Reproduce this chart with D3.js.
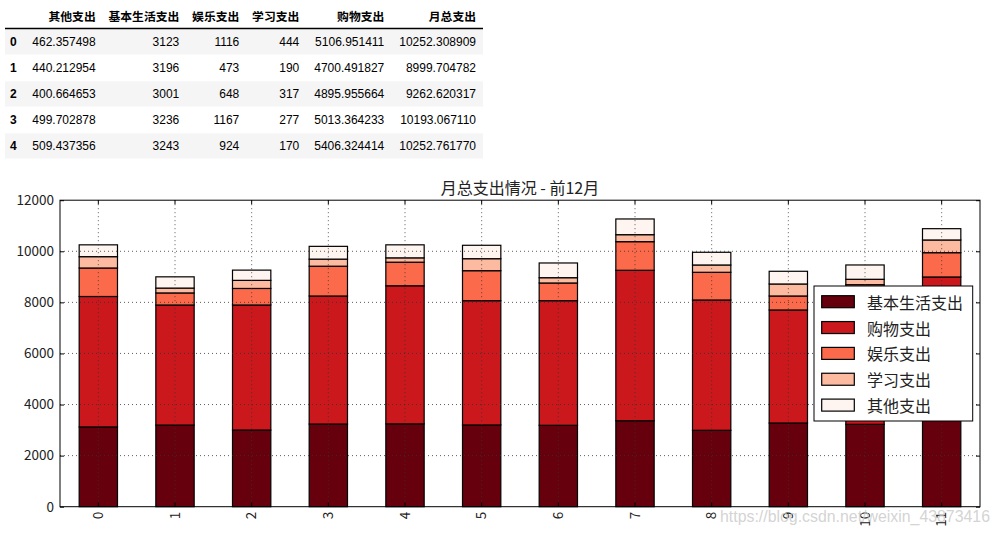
<!DOCTYPE html>
<html>
<head>
<meta charset="utf-8">
<script src="https://cdn.jsdelivr.net/npm/d3@7/dist/d3.min.js"></script>
<style>
  html, body { margin: 0; padding: 0; background: #fff; }
  svg { display: block; }
</style>
</head>
<body>
<svg id="chart" width="1000" height="535"></svg>
<script>
// ---------------- data ----------------
const months = ["0","1","2","3","4","5","6","7","8","9","10","11"];
const basic         = [3123, 3196, 3001, 3236, 3243, 3200, 3187, 3367, 2991, 3277, 3226, 3400];
const shopping      = [5106.951411, 4700.491827, 4895.955664, 5013.364233, 5406.324414, 4866, 4879, 5889, 5102, 4425, 4766, 5594];
const entertainment = [1116, 473, 648, 1167, 924, 1174, 693, 1120, 1085, 548, 700, 951];
const study         = [444, 190, 317, 277, 170, 470, 207, 274, 286, 470, 212, 498];
const other         = [462.357498, 440.212954, 400.664653, 499.702878, 509.437356, 525, 576, 615, 497, 497, 560, 442];
const tableTotals   = [10252.308909, 8999.704782, 9262.620317, 10193.067110, 10252.761770];

const seriesNames  = ["基本生活支出", "购物支出", "娱乐支出", "学习支出", "其他支出"];
const seriesValues = [basic, shopping, entertainment, study, other];
const seriesColors = ["#67000d", "#cb181d", "#fb6a4a", "#fcbba1", "#fff5f0"];

const tableHeaders = ["其他支出", "基本生活支出", "娱乐支出", "学习支出", "购物支出", "月总支出"];
const yTicks = [0, 2000, 4000, 6000, 8000, 10000, 12000];
const chartTitle = "月总支出情况 - 前12月";
const watermark = "https://blog.csdn.net/weixin_43873416";

// ---------------- setup ----------------
const svg = d3.select("#chart");
const CJK = "'Noto Sans CJK SC', 'Noto Sans', sans-serif";
const TABLEFONT = "'Liberation Sans', Arial, 'Noto Sans CJK SC', sans-serif";

// ---------------- table ----------------
const tbl = svg.append("g");
const tableLeft = 5, tableRight = 483;
const rowH = 26, headerLineY = 28.5;
const colRight = [95.7, 179.3, 239.3, 299.3, 384.3, 476];
const nRows = tableTotals.length;
const fmt6 = v => v.toFixed(6);
const cellText = [
  i => fmt6(other[i]),
  i => String(basic[i]),
  i => String(entertainment[i]),
  i => String(study[i]),
  i => fmt6(shopping[i]),
  i => fmt6(tableTotals[i])
];
const rowsIdx = d3.range(nRows);

tbl.selectAll("rect.stripe").data(rowsIdx.filter(i => i % 2 === 0)).join("rect")
  .attr("class", "stripe")
  .attr("x", tableLeft).attr("width", tableRight - tableLeft)
  .attr("y", i => headerLineY + 0.8 + i * rowH).attr("height", rowH - 0.8)
  .attr("fill", "#f5f5f5");

tbl.append("line")
  .attr("x1", tableLeft).attr("x2", tableRight)
  .attr("y1", headerLineY).attr("y2", headerLineY)
  .attr("stroke", "#000").attr("stroke-width", 1.3);

tbl.selectAll("text.hdr").data(tableHeaders).join("text")
  .attr("class", "hdr")
  .attr("x", (d, i) => colRight[i]).attr("y", 15)
  .attr("text-anchor", "end").attr("dominant-baseline", "central")
  .attr("font-family", CJK).attr("font-weight", "bold").attr("font-size", 11.8)
  .attr("fill", "#000")
  .text(d => d);

tbl.selectAll("text.idx").data(rowsIdx).join("text")
  .attr("class", "idx")
  .attr("x", 10).attr("y", i => 41.8 + i * rowH)
  .attr("dominant-baseline", "central")
  .attr("font-family", TABLEFONT).attr("font-weight", "bold").attr("font-size", 12)
  .attr("fill", "#000")
  .text(i => months[i]);

rowsIdx.forEach(i => {
  tbl.selectAll(null).data(cellText).join("text")
    .attr("x", (f, c) => colRight[c]).attr("y", 41.8 + i * rowH)
    .attr("text-anchor", "end").attr("dominant-baseline", "central")
    .attr("font-family", TABLEFONT).attr("font-size", 12)
    .attr("fill", "#000")
    .text(f => f(i));
});

// ---------------- chart ----------------
const plot = { left: 60, right: 980, top: 200.2, bottom: 506.7 };

const x = d3.scaleBand().domain(months)
  .range([plot.left, plot.right]).paddingInner(0.5).paddingOuter(0.25);
const y = d3.scaleLinear().domain([0, 12000]).range([plot.bottom, plot.top]);

// stacked data
const stackData = months.map((m, i) => {
  const o = { month: m };
  seriesNames.forEach((s, k) => { o[s] = seriesValues[k][i]; });
  return o;
});
const stacked = d3.stack().keys(seriesNames)(stackData);

const barsG = svg.append("g");
stacked.forEach((layer, k) => {
  barsG.append("g").selectAll("rect").data(layer).join("rect")
    .attr("x", d => x(d.data.month))
    .attr("width", x.bandwidth())
    .attr("y", d => y(d[1]))
    .attr("height", d => y(d[0]) - y(d[1]))
    .attr("fill", seriesColors[k])
    .attr("stroke", "#000").attr("stroke-width", 1.2);
});

// grid (drawn over the bars, classic matplotlib)
const grid = svg.append("g").attr("stroke", "#333").attr("stroke-width", 0.8)
  .attr("stroke-dasharray", "1,3");
grid.selectAll("line.h").data(yTicks.slice(1, -1)).join("line")
  .attr("x1", plot.left).attr("x2", plot.right)
  .attr("y1", d => y(d)).attr("y2", d => y(d));
grid.selectAll("line.v").data(months).join("line")
  .attr("x1", d => x(d) + x.bandwidth() / 2).attr("x2", d => x(d) + x.bandwidth() / 2)
  .attr("y1", plot.top).attr("y2", plot.bottom);

// axes
const yAxis = d3.axisLeft(y).tickValues(yTicks).tickSize(-4).tickPadding(6).tickFormat(d3.format("d"));
const yG = svg.append("g").attr("transform", `translate(${plot.left},0)`).call(yAxis);
yG.select(".domain").remove();
yG.selectAll("text").attr("font-family", CJK).attr("font-size", 13.5).attr("fill", "#222");
yG.selectAll("line").attr("stroke", "#000");

const yAxisR = d3.axisRight(y).tickValues(yTicks).tickSize(-4).tickFormat("");
const yGR = svg.append("g").attr("transform", `translate(${plot.right},0)`).call(yAxisR);
yGR.select(".domain").remove();

const xAxis = d3.axisBottom(x).tickSize(-4).tickPadding(5);
const xG = svg.append("g").attr("transform", `translate(0,${plot.bottom})`).call(xAxis);
xG.select(".domain").remove();
xG.selectAll("text")
  .attr("transform", "rotate(-90)")
  .attr("x", -5).attr("y", 0).attr("dy", "0.35em")
  .attr("text-anchor", "end")
  .attr("font-family", CJK).attr("font-size", 13.5).attr("fill", "#222");

const xAxisT = d3.axisTop(x).tickSize(-4).tickFormat("");
const xGT = svg.append("g").attr("transform", `translate(0,${plot.top})`).call(xAxisT);
xGT.select(".domain").remove();

// frame
svg.append("rect")
  .attr("x", plot.left).attr("y", plot.top)
  .attr("width", plot.right - plot.left).attr("height", plot.bottom - plot.top)
  .attr("fill", "none").attr("stroke", "#000").attr("stroke-width", 1);

// title
svg.append("text")
  .attr("x", (plot.left + plot.right) / 2).attr("y", 187)
  .attr("text-anchor", "middle").attr("dominant-baseline", "central")
  .attr("font-family", CJK).attr("font-size", 16).attr("fill", "#222")
  .text(chartTitle);

// legend
const leg = svg.append("g");
const legX = 814, legY = 286, legW = 158.7, legH = 135;
leg.append("rect").attr("x", legX).attr("y", legY).attr("width", legW).attr("height", legH)
  .attr("fill", "#fff").attr("stroke", "#000").attr("stroke-width", 1);
const legItems = leg.selectAll("g.item").data(seriesNames).join("g")
  .attr("class", "item")
  .attr("transform", (d, i) => `translate(0,${301.7 + i * 25.85})`);
legItems.append("rect")
  .attr("x", 821.7).attr("y", -6).attr("width", 32.6).attr("height", 12)
  .attr("fill", (d, i) => seriesColors[i])
  .attr("stroke", "#000").attr("stroke-width", 1.2);
legItems.append("text")
  .attr("x", 867).attr("y", 0).attr("dominant-baseline", "central")
  .attr("font-family", CJK).attr("font-size", 16).attr("fill", "#222")
  .text(d => d);

// watermark
svg.append("text")
  .attr("x", 720).attr("y", 516).attr("dominant-baseline", "central")
  .attr("font-family", TABLEFONT).attr("font-size", 16)
  .attr("fill", "rgba(200,200,200,0.8)")
  .attr("textLength", 270).attr("lengthAdjust", "spacingAndGlyphs")
  .text(watermark);
</script>
</body>
</html>
